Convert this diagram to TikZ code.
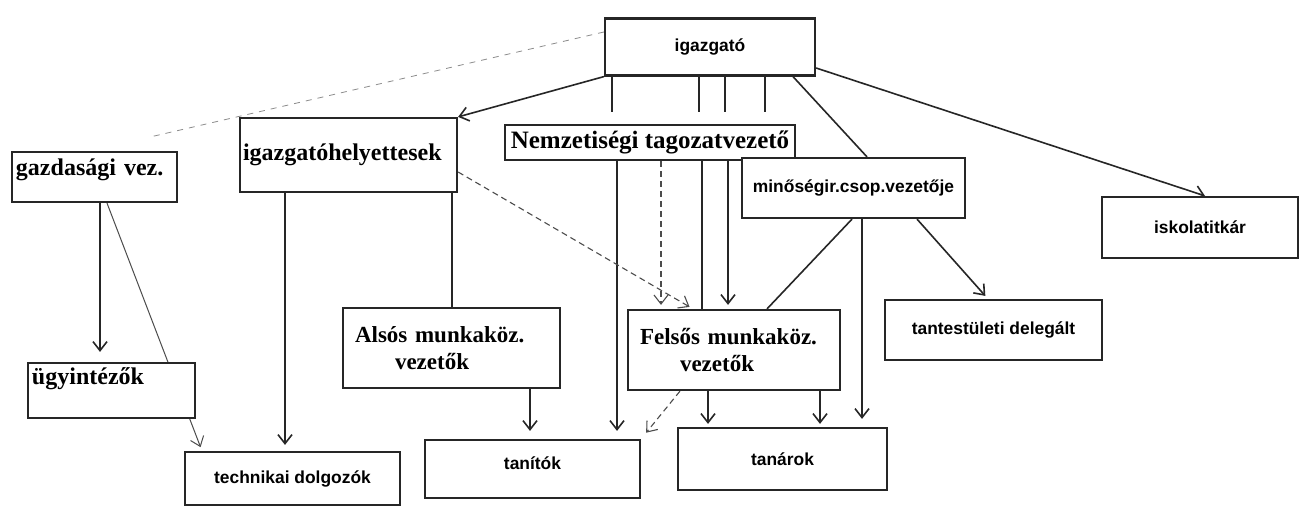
\documentclass[tikz,border=0pt]{standalone}
\usepackage{fontspec}
\setmainfont{Liberation Serif}
\newfontfamily\chartsans{Liberation Sans}
\usepackage{tikz}
\usetikzlibrary{
    arrows.meta,
    backgrounds
}
\tikzset{
    unitbox/.style={
        rectangle, draw=black!85, line width=1.1pt, fill=white,
        inner sep=0pt
    },
    serifbox/.style={
        unitbox, align=left,
        font=\fontsize{12}{13.5}\selectfont\bfseries
    },
    sansbox/.style={
        unitbox, align=center,
        font=\chartsans\fontsize{8.7}{10.5}\selectfont\bfseries
    },
    conn/.style={
        line width=0.8pt, draw=black!85
    },
    arrow/.style={
        conn, -{Straight Barb[length=4.5pt,width=7pt]}
    },
    dasharrow/.style={
        arrow, densely dashed, line width=0.55pt, draw=black!70
    },
    faint/.style={
        dashed, line width=0.4pt, draw=black!45
    }
}

\begin{document}
\begin{tikzpicture}[x=0.5pt, y=-0.5pt]
    \useasboundingbox (0,0) rectangle (1300,508);

    % top: director and the boxes below it
    \node[sansbox, minimum width=105pt, minimum height=28.5pt] (igazgato) at (710,47) {igazgató};
    \node[serifbox, minimum width=82.5pt, minimum height=25pt, inner xsep=2pt,
        text width=78.5pt, text depth=9.6pt] (gazd) at (94.5,177) {gazdasági vez.};
    \node[serifbox, minimum width=108.5pt, minimum height=37pt, inner xsep=1.5pt,
        text width=105.5pt] (igh) at (348.5,155) {igazgatóhelyettesek};
    \node[serifbox, align=center, minimum width=145pt, minimum height=17.5pt,
        font=\fontsize{12.5}{14}\selectfont\bfseries] (nemz) at (650,142.5) {Nemzetiségi tagozatvezető};
    \node[sansbox, minimum width=111.5pt, minimum height=30pt] (minos) at (853.5,188) {minőségir.csop.vezetője};
    \node[sansbox, minimum width=98pt, minimum height=30.5pt] (iskola) at (1200,227.5) {iskolatitkár};

    % middle row
    \node[serifbox, minimum width=108.5pt, minimum height=40pt, inner xsep=6pt, text width=96.5pt,
        text depth=13pt, font=\fontsize{11.5}{13.5}\selectfont\bfseries] (alsos) at (451.5,348)
        {Alsós munkaköz.\\\hspace*{20pt}vezetők};
    \node[serifbox, minimum width=106pt, minimum height=40pt, inner xsep=6pt, text width=94pt,
        text depth=14pt, font=\fontsize{11.5}{13.5}\selectfont\bfseries] (felsos) at (734,350)
        {Felsős munkaköz.\\\hspace*{20pt}vezetők};
    \node[sansbox, minimum width=108.5pt, minimum height=30pt] (tantest) at (993.5,330) {tantestületi delegált};

    % bottom row
    \node[serifbox, minimum width=83.5pt, minimum height=27.5pt, inner xsep=2pt,
        text width=79.5pt, text depth=14.6pt] (ugy) at (111.5,390.5) {ügyintézők};
    \node[sansbox, minimum width=107.5pt, minimum height=26.5pt] (techn) at (292.5,478.5) {technikai dolgozók};
    \node[sansbox, minimum width=107.5pt, minimum height=29pt, text depth=6pt] (tanitok) at (532.5,469) {tanítók};
    \node[sansbox, minimum width=104.5pt, minimum height=31pt] (tanarok) at (782.5,459) {tanárok};

    \coordinate (gazdtop) at (150,137);

    \begin{scope}[on background layer]
        \fill[white] (0,0) rectangle (1300,508);

        % from the director
        \draw[arrow] (igazgato.south west) -- (igh.north east);
        \draw[faint] (igazgato.west |- 0,32) -- (gazdtop);
        \foreach \xpos in {612,699,725,765}
            \draw[conn, shorten >=6pt] (igazgato.south -| \xpos,0) -- (nemz.north -| \xpos,0);
        \draw[arrow, shorten >=4pt] (nemz.south -| 617,0) -- (tanitok.north -| 617,0);
        \draw[dasharrow, shorten >=2pt] (nemz.south -| 661,0) -- (felsos.north -| 661,0);
        \draw[conn] (nemz.south -| 702,0) -- (felsos.north -| 702,0);
        \draw[arrow, shorten >=2pt] (nemz.south -| 728,0) -- (felsos.north -| 728,0);
        \draw[conn] (igazgato.south -| 793,0) -- (minos.north -| 867,0);
        \draw[arrow] (igazgato.east |- 0,68) -- (iskola.north -| 1205,0);

        % from the quality group leader
        \draw[conn] (minos.south -| 852,0) -- (felsos.north -| 767,0);
        \draw[arrow, shorten >=4pt] (minos.south -| 862,0) -- (tanarok.north -| 862,0);
        \draw[arrow, shorten >=2pt] (minos.south -| 917,0) -- (tantest.north -| 988,0);

        % from the deputies
        \draw[arrow, shorten >=3pt] (igh.south -| 285,0) -- (techn.north -| 285,0);
        \draw[conn] (igh.south -| 452,0) -- (alsos.north -| 452,0);
        \draw[dasharrow, shorten >=2pt] (igh.east |- 0,172) -- (felsos.north -| 693,0);

        % from the finance head
        \draw[arrow, shorten >=5pt] (gazd.south -| 100,0) -- (ugy.north -| 100,0);
        \draw[arrow, line width=0.5pt, draw=black!70, shorten >=2pt] (gazd.south -| 107,0) -- (techn.north -| 202,0);

        % to teachers
        \draw[dasharrow, shorten >=4pt] (felsos.south -| 680,0) -- (tanitok.north east);
        \draw[arrow, shorten >=4pt] (alsos.south -| 530,0) -- (tanitok.north -| 530,0);
        \draw[arrow, shorten >=1.5pt] (felsos.south -| 708,0) -- (tanarok.north -| 708,0);
        \draw[arrow, shorten >=1.5pt] (felsos.south -| 820,0) -- (tanarok.north -| 820,0);
    \end{scope}
\end{tikzpicture}
\end{document}
